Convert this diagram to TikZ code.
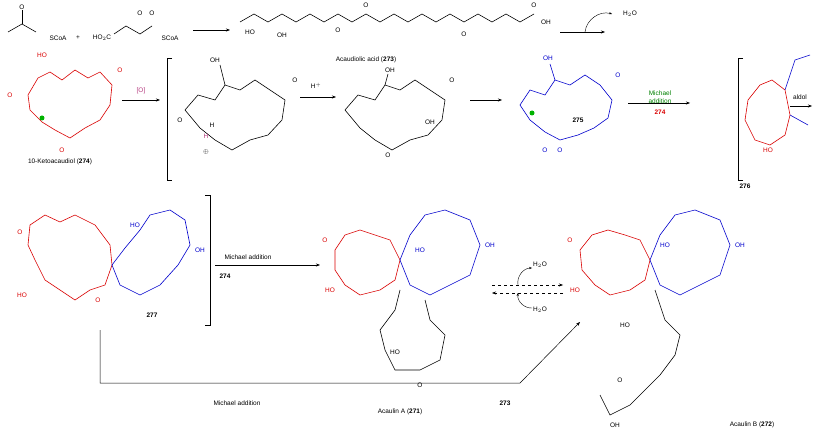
\documentclass[tikz,border=0pt]{standalone}
\usepackage{fontspec}
\setmainfont{Liberation Sans}
\usetikzlibrary{arrows.meta}
\begin{document}
\begin{tikzpicture}[x=1pt,y=-1pt,
  lab/.style={font=\fontsize{6.5}{7}\selectfont,inner sep=1pt},
  atom/.style={font=\fontsize{6.5}{7}\selectfont,inner sep=0.5pt},
  rx/.style={-{Stealth[length=4pt]},line width=0.5pt},
  bond/.style={line width=0.6pt},
  red/.style={draw=red!85!black},
  blu/.style={draw=blue!80!black},
  redt/.style={text=red!85!black},
  blut/.style={text=blue!80!black}]
\useasboundingbox (0,0) rectangle (813,435);
% ---------- top row ----------
\node[atom] (sc1) at (58,38) {SCoA};
\draw[bond] (8,32)--(22,24)--(36,32); \draw[bond] (22,24)--(22,10); \node[atom] at (22,7) {O};
\node[lab] (plus) at (78,38) {+};
\node[atom] (ho2c) at (102,38) {HO$_2$C};
\draw[bond] (114,34)--(126,26)--(140,34)--(152,26); \node[atom] at (140,13){O};\node[atom] at (152,13){O};
\node[atom] (sc2) at (170,38) {SCoA};
\coordinate (a1s) at (193,30); \coordinate (a1e) at (230,30);
\draw[rx] (a1s)--(a1e);
% acaudiolic acid chain
\draw[bond] (240,22)--(254,14)--(268,22)--(282,14)--(296,22)--(310,14)--(324,22)--(338,14)--(352,22)--(366,14)--(380,22)--(394,14)--(408,22)--(422,14)--(436,22)--(450,14)--(464,22)--(478,14)--(492,22)--(506,14)--(520,22)--(534,14);
\node[atom] at (250,32){HO}; \node[atom] at (282,35){OH};
\node[atom] at (338,30){O}; \node[atom] at (366,5){O};
\node[atom] at (464,34){O}; \node[atom] at (534,5){O}; \node[atom] at (546,22){OH};
\node[lab] (aa) at (366,60) {Acaudiolic acid (\textbf{273})};
\coordinate (a2s) at (560,32); \coordinate (a2e) at (605,32);
\draw[rx] (a2s)--(a2e);
\draw[-{Stealth[length=3pt]},line width=0.4pt] (585,32) to[bend left=50] (612,14);
\node[lab] (h2o1) at (630,14) {H$_2$O};
% 274 red macrocycle
\draw[bond,red] (28,95)--(38,78)--(50,72)--(62,80)--(75,70)--(88,78)--(100,72)--(112,85)--(110,105)--(100,120)--(85,128)--(70,138)--(55,130)--(42,122)--(30,110)--cycle;
\node[atom,redt] at (42,55){HO}; \node[atom,redt] at (10,95){O}; \node[atom,redt] at (120,70){O};\node[atom,redt] at (62,150){O};
\fill[green!70!black] (42,118) circle (2.5pt);
\node[lab] (k274) at (60,162) {10-Ketoacaudiol (\textbf{274})};
\coordinate (a3s) at (122,100); \coordinate (a3e) at (160,100);
\draw[rx] (a3s)--(a3e);
\node[lab,text=magenta!70!black] (ox) at (141,91) {[O]};
% bracket
\draw[line width=0.6pt] (172,58)--(167,58)--(167,180)--(172,180);
% first intermediate
\draw[bond] (185,110)--(198,95)--(215,100)--(225,85)--(240,90)--(255,80)--(270,90)--(285,100)--(282,120)--(268,135)--(250,140)--(232,150)--(215,140)--(200,128)--cycle;
\draw[bond] (225,85)--(220,65);
\node[atom] at (215,60){OH}; \node[atom] at (180,120){O}; \node[atom] at (295,80){O};
\node[atom,text=magenta!70!black] at (206,136){H}; \node[atom] at (206,152){$\oplus$};
\node[atom] at (212,125){H};
% H+ arrow
\coordinate (a4s) at (300,97); \coordinate (a4e) at (336,97);
\draw[rx] (a4s)--(a4e);
\node[lab] (hp) at (316,86) {H$^+$};
% second intermediate
\draw[bond] (345,110)--(358,95)--(375,100)--(385,85)--(400,90)--(415,80)--(430,90)--(445,100)--(442,120)--(428,135)--(410,140)--(392,150)--(375,140)--(360,128)--cycle;
\draw[bond] (385,85)--(388,74);
\node[atom] at (390,70){OH}; \node[atom] at (388,155){O}; \node[atom] at (452,80){O};\node[atom] at (430,122){OH};
\coordinate (a5s) at (470,100); \coordinate (a5e) at (502,100);
\draw[rx] (a5s)--(a5e);
% 275 blue
\draw[bond,blu] (520,105)--(530,90)--(545,95)--(555,80)--(570,85)--(585,75)--(600,85)--(612,100)--(608,118)--(594,128)--(578,135)--(560,140)--(545,132)--(530,120)--cycle;
\draw[bond,blu] (555,80)--(550,64);
\node[atom,blut] at (548,58){OH}; \node[atom,blut] at (618,75){O}; \node[atom,blut] at (545,150){O};\node[atom,blut] at (560,150){O};
\fill[green!70!black] (532,113) circle (2.5pt);
\node[lab] (n275) at (578,120) {\textbf{275}};
\coordinate (a6s) at (628,103); \coordinate (a6e) at (690,103);
\draw[rx] (a6s)--(a6e);
\node[lab,text=green!50!black] (ma1) at (660,93) {Michael};
\node[lab,text=green!50!black] (ma2) at (660,101) {addition};
\node[lab,text=red!85!black] (r274) at (660,112) {\textbf{274}};
% bracket 276
\draw[line width=0.6pt] (743,58)--(738,58)--(738,180)--(743,180);
\draw[bond,red] (748,100)--(760,85)--(772,80)--(785,90)--(790,115)--(785,135)--(770,145)--(755,140)--(745,120)--cycle;
\draw[bond,blu] (785,90)--(795,60)--(810,55) (790,115)--(808,125);
\node[atom,redt] at (768,150){HO};
\node[lab] (n276) at (745,186) {\textbf{276}};
\coordinate (a7s) at (790,106); \coordinate (a7e) at (812,106);
\draw[rx] (a7s)--(a7e);
\node[lab] (ald) at (800,97) {aldol};
% ---------- row 2 ----------
\draw[bond,red] (30,225)--(45,215)--(60,222)--(75,215)--(95,225)--(110,245)--(112,265)--(105,285)--(90,290)--(75,300)--(60,290)--(45,280)--(35,260)--(28,245)--cycle;
\draw[bond,blu] (112,265)--(125,248)--(140,230)--(150,215)--(170,210)--(185,220)--(190,245)--(178,265)--(160,285)--(140,295)--(120,285)--cycle;
\node[atom,redt] at (20,232){O}; \node[atom,redt] at (22,295){HO}; \node[atom,redt] at (98,300){O};
\node[atom,blut] at (200,250){OH}; \node[atom,blut] at (135,225){HO};
\node[lab] (n277) at (152,315) {\textbf{277}};
\draw[line width=0.6pt] (205,195)--(210,195)--(210,325)--(205,325);
\coordinate (a8s) at (215,265); \coordinate (a8e) at (320,265);
\draw[rx] (a8s)--(a8e);
\node[lab] (ma3) at (248,257) {Michael addition};
\node[lab] (m274b) at (225,276) {\textbf{274}};
% Acaulin A
\draw[bond,red] (335,250)--(345,235)--(360,230)--(375,235)--(390,240)--(400,260)--(395,280)--(380,290)--(360,295)--(345,285)--(335,270)--cycle;
\draw[bond,blu] (400,260)--(410,235)--(425,215)--(445,210)--(470,220)--(480,245)--(470,275)--(450,285)--(430,295)--(410,285)--cycle;
\draw[bond] (400,290)--(395,310)--(380,330)--(385,350)--(395,370)--(420,370)--(440,360)--(445,335)--(430,320)--(425,300);
\node[atom,redt] at (325,240){O}; \node[atom,redt] at (330,290){HO};
\node[atom,blut] at (420,250){HO}; \node[atom,blut] at (490,245){OH};
\node[atom] at (395,352){HO}; \node[atom] at (420,385){O};
\node[lab] (acA) at (400,412) {Acaulin A (\textbf{271})};
% equilibrium
\coordinate (e1s) at (492,285); \coordinate (e1e) at (563,285);
\coordinate (e2s) at (563,293); \coordinate (e2e) at (492,293);
\draw[rx,dashed] (e1s)--(e1e);
\draw[rx,dashed] (e2s)--(e2e);
\node[lab] (h2o2) at (540,265) {H$_2$O};
\node[lab] (h2o3) at (540,310) {H$_2$O};
\draw[-{Stealth[length=3pt]},line width=0.4pt] (518,285) to[bend left=50] (532,268);
\draw[-{Stealth[length=3pt]},line width=0.4pt] (532,308) to[bend left=50] (518,293);
% Acaulin B
\draw[bond,red] (580,250)--(592,235)--(608,230)--(625,235)--(640,240)--(650,260)--(645,280)--(630,290)--(610,295)--(595,285)--(582,270)--cycle;
\draw[bond,blu] (650,260)--(660,235)--(675,215)--(695,210)--(720,220)--(730,245)--(720,275)--(700,285)--(680,295)--(660,285)--cycle;
\draw[bond] (655,290)--(665,320)--(680,335)--(675,355)--(660,375)--(645,390)--(630,405)--(610,415)--(600,395);
\node[atom,redt] at (570,240){O}; \node[atom,redt] at (575,290){HO};
\node[atom,blut] at (665,245){HO}; \node[atom,blut] at (740,245){OH};
\node[atom] at (625,325){HO}; \node[atom] at (620,380){O}; \node[atom] at (615,425){OH};
\node[lab] (acB) at (752,425) {Acaulin B (\textbf{272})};
% long arrow
\coordinate (l0) at (100,330); \coordinate (l1) at (100,383); \coordinate (l2) at (520,383); \coordinate (l3) at (580,322);
\draw[rx] (l0)--(l1)--(l2)--(l3);
\node[lab] (ma4) at (237,403) {Michael addition};
\node[lab] (m273) at (505,403) {\textbf{273}};
\end{tikzpicture}
\end{document}
